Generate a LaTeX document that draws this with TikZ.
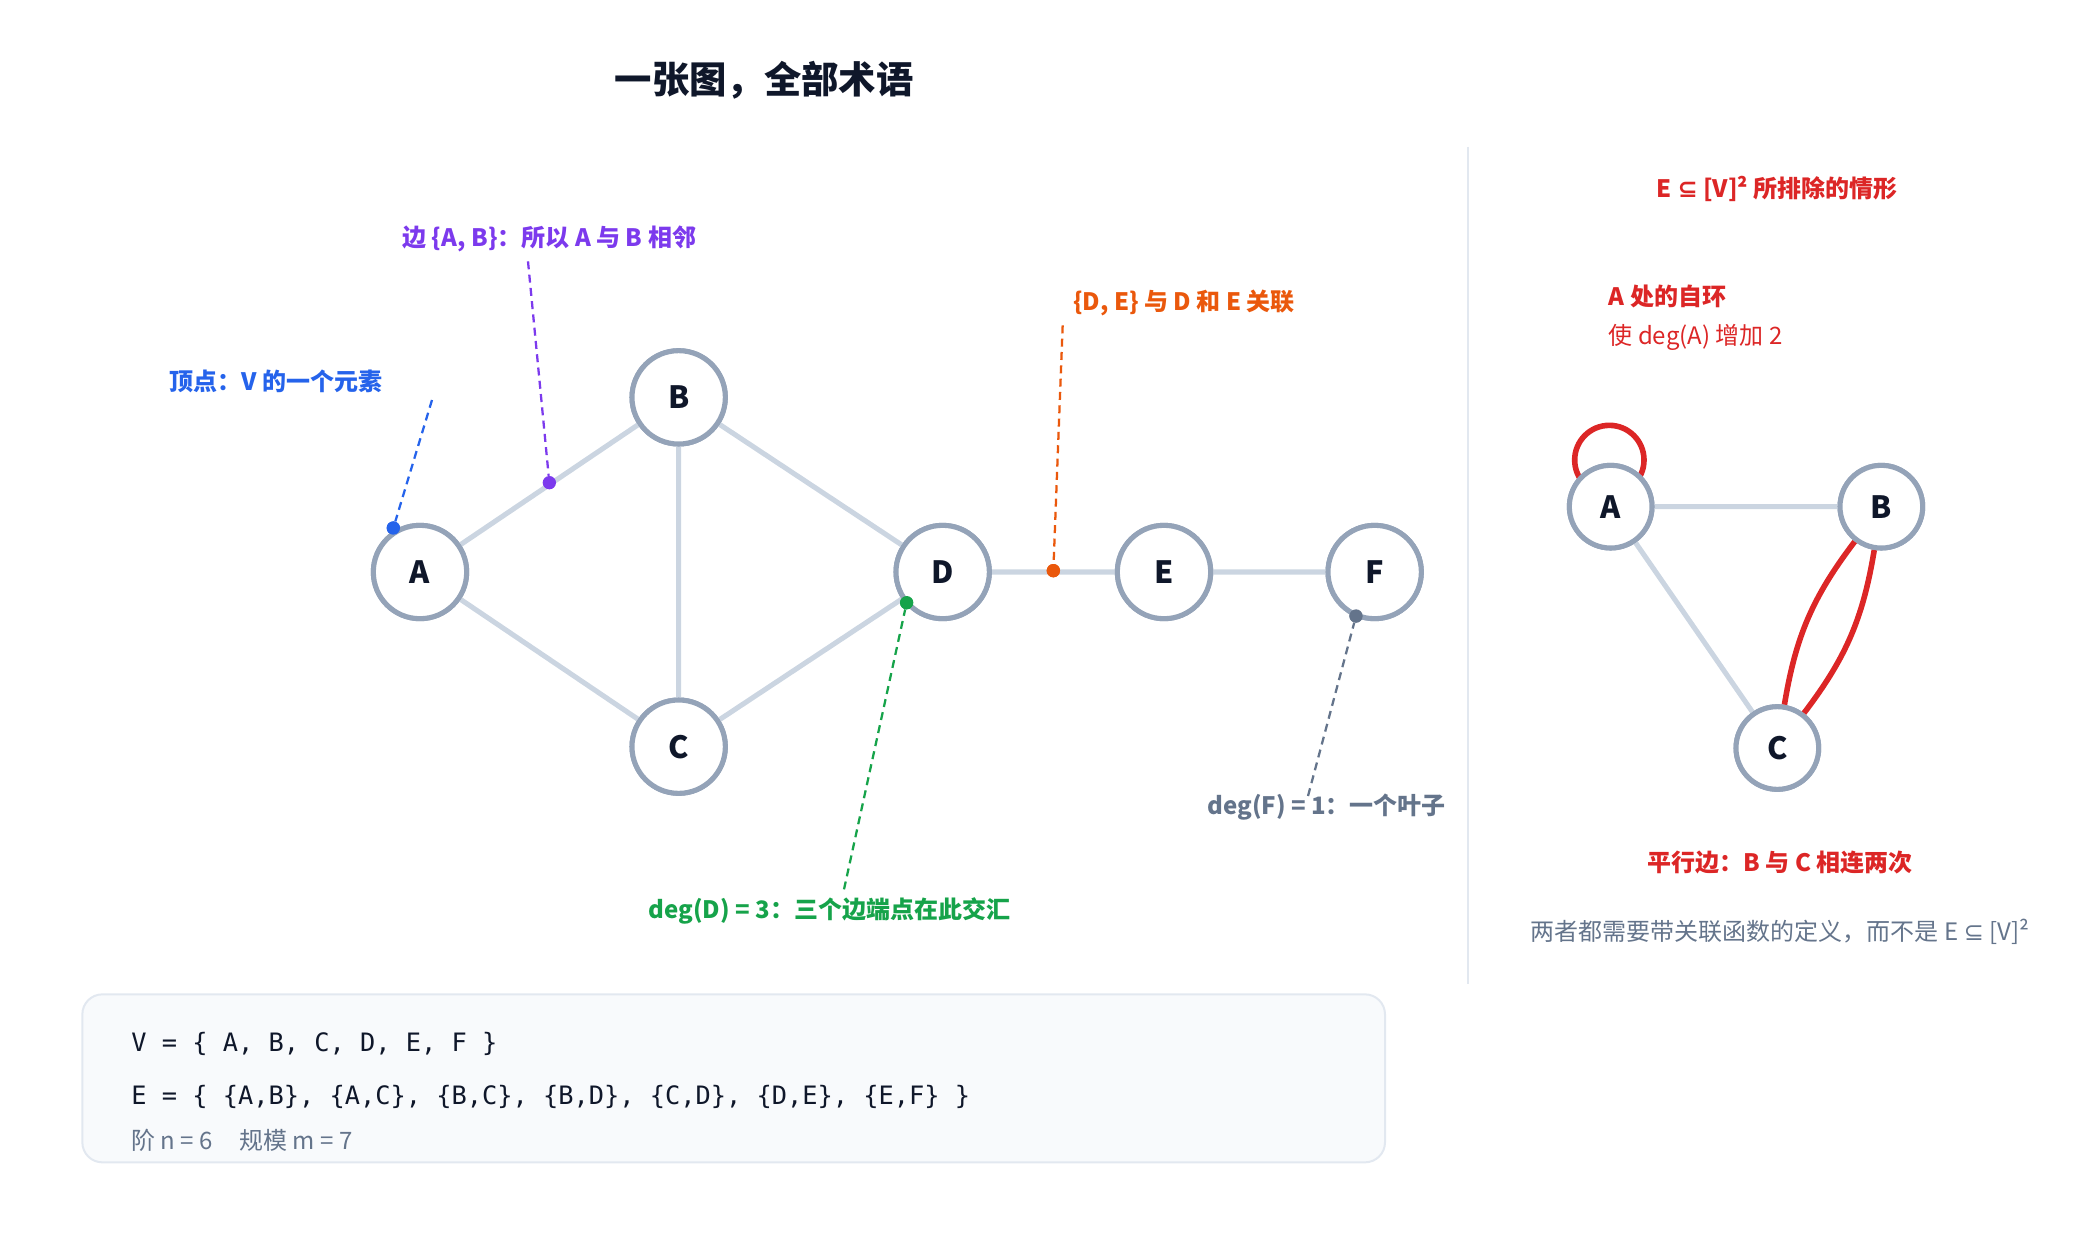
\documentclass[tikz,border=0pt]{standalone}
\usepackage{fontspec}
\setmainfont{Noto Sans CJK SC}
\setmonofont{DejaVu Sans Mono}
\newfontfamily\djfont{DejaVu Sans}
\definecolor{nodestroke}{HTML}{94A3B8}
\definecolor{edgec}{HTML}{CBD5E1}
\definecolor{ink}{HTML}{0F172A}
\definecolor{blueA}{HTML}{2563EB}
\definecolor{purp}{HTML}{7C3AED}
\definecolor{orng}{HTML}{EA580C}
\definecolor{grn}{HTML}{16A34A}
\definecolor{slate}{HTML}{64748B}
\definecolor{redc}{HTML}{DC2626}
\definecolor{boxfill}{HTML}{F8FAFC}
\definecolor{boxline}{HTML}{E2E8F0}
\begin{document}
\begin{tikzpicture}[x=1pt,y=-1pt,
  vtx/.style={circle,draw=nodestroke,line width=3.8pt,fill=white,minimum size=70pt,inner sep=0pt,font=\fontsize{23}{25}\selectfont\bfseries,text=ink},
  svtx/.style={vtx,minimum size=62pt},
  edge/.style={draw=edgec,line width=3.8pt},
  redge/.style={draw=redc,line width=4.2pt},
  ann/.style={line width=1.7pt,dash pattern=on 6pt off 4pt},
  lbl/.style={font=\fontsize{18}{20}\selectfont\bfseries},
  dot/.style={circle,inner sep=0pt,minimum size=10pt}]
\useasboundingbox (0,0) rectangle (1560,930);
\node[font=\fontsize{28}{30}\selectfont\bfseries,text=ink] (title) at (573,60) {一张图，全部术语};
% main graph
\node[vtx] (A) at (315,429) {A};
\node[vtx] (B) at (509,298) {B};
\node[vtx] (C) at (509,560) {C};
\node[vtx] (D) at (707,429) {D};
\node[vtx] (E) at (873,429) {E};
\node[vtx] (F) at (1031,429) {F};
\path[edge] (A)--(B) (A)--(C) (B)--(C) (B)--(D) (C)--(D) (D)--(E) (E)--(F);
% annotations
\node[lbl,text=blueA] (tv) at (207,286) {顶点：V 的一个元素};
\coordinate (v1) at (324,300);
\node[dot,fill=blueA] (dv) at (295,396) {};
\draw[ann,blueA] (v1)--(dv);
\node[lbl,text=purp] (te) at (412,179) {边 \{A, B\}：所以 A 与 B 相邻};
\coordinate (e1) at (396,196);
\node[dot,fill=purp] (de) at (412,362) {};
\draw[ann,purp] (e1)--(de);
\node[lbl,text=orng] (ti) at (888,227) {\{D, E\} 与 D 和 E 关联};
\coordinate (i1) at (797,244);
\node[dot,fill=orng] (di) at (790,428) {};
\draw[ann,orng] (i1)--(di);
\node[lbl,text=grn] (td) at (622,683) {deg(D) = 3：三个边端点在此交汇};
\coordinate (g1) at (633,667);
\node[dot,fill=grn] (dg) at (680,452) {};
\draw[ann,grn] (g1)--(dg);
\node[lbl,text=slate] (tf) at (995,605) {deg(F) = 1：一个叶子};
\coordinate (f1) at (981,597);
\node[dot,fill=slate] (df) at (1017,462) {};
\draw[ann,slate] (f1)--(df);
% redraw nodes over edges
\node[vtx] at (A) {A};\node[vtx] at (B) {B};\node[vtx] at (C) {C};
\node[vtx] at (D) {D};\node[vtx] at (E) {E};\node[vtx] at (F) {F};
\node[dot,fill=blueA] at (dv) {};
\node[dot,fill=grn] at (dg) {};
\node[dot,fill=slate] at (df) {};
\node[dot,fill=orng] at (di) {};
% divider
\coordinate (d1) at (1101,110); \coordinate (d2) at (1101,738);
\draw[boxline,line width=1.5pt] (d1)--(d2);
% right panel
\node[lbl,text=redc] (rt) at (1333,142) {E {\djfont ⊆} [V]² 所排除的情形};
\node[lbl,text=redc,anchor=west] (sl) at (1203,222) {A 处的自环};
\node[font=\fontsize{18}{20}\selectfont,text=redc,anchor=west] (sl2) at (1203,253) {使 deg(A) 增加 2};
\coordinate (lc) at (1207,345);
\draw[redge] (lc) circle (26);
\node[svtx] (A2) at (1208,380) {A};
\node[svtx] (B2) at (1411,380) {B};
\node[svtx] (C2) at (1333,561) {C};
\path[edge] (A2)--(B2) (A2)--(C2);
\draw[redge] (B2) to[bend right=14] (C2);
\draw[redge] (B2) to[bend left=14] (C2);
\node[svtx] at (A2) {A};\node[svtx] at (B2) {B};\node[svtx] at (C2) {C};
\node[lbl,text=redc] (pt) at (1335,647) {平行边：B 与 C 相连两次};
\node[font=\fontsize{18}{20}\selectfont,text=slate] (note) at (1335,699) {两者都需要带关联函数的定义，而不是 E {\djfont ⊆} [V]²};
% box
\node[draw=boxline,fill=boxfill,line width=1.5pt,rounded corners=15pt,minimum width=977pt,minimum height=126pt,anchor=north west] (box) at (61,745) {};
\node[anchor=west,font=\ttfamily\fontsize{19}{21}\selectfont,text=ink] (vl) at (95,783) {V = \{ A, B, C, D, E, F \}};
\node[anchor=west,font=\ttfamily\fontsize{19}{21}\selectfont,text=ink] (el) at (95,823) {E = \{ \{A,B\}, \{A,C\}, \{B,C\}, \{B,D\}, \{C,D\}, \{D,E\}, \{E,F\} \}};
\node[anchor=west,font=\fontsize{18}{20}\selectfont,text=slate] (nl) at (95,855) {阶 n = 6\hspace{20pt}规模 m = 7};
\end{tikzpicture}
\end{document}
